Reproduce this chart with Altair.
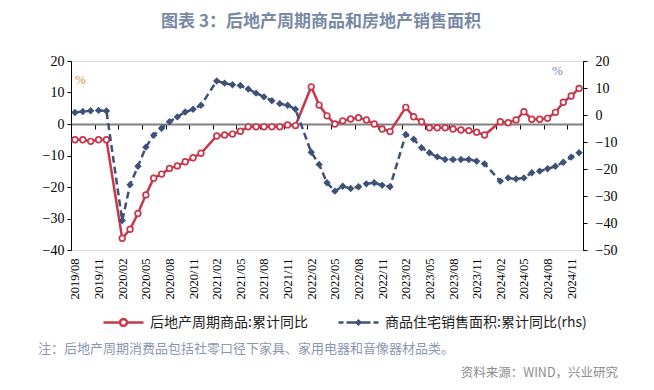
import altair as alt
import pandas as pd

# ---------------- data ----------------
months = []
for yr in range(2019, 2025):
    for mo in range(1, 13):
        if yr == 2019 and mo < 8:
            continue
        months.append(f"{yr}/{mo:02d}")
label_months = months[::3]

red_name = "后地产周期商品:累计同比"
blue_name = "商品住宅销售面积:累计同比(rhs)"

red_vals = [-5.0, -5.0, -5.5, -5.0, -5.0,
            None, -36.3, -33.4, -28.4, -22.5, -17.2, -15.9, -14.1, -13.3, -12.0, -10.7, -9.3,
            None, -3.8, -3.5, -3.2, -2.3, -0.9, -0.9, -0.9, -0.9, -0.9, -0.3, -0.5,
            None, 11.8, 6.0, 2.6, 0.0, 1.0, 1.6, 2.0, 1.3, 0.0, -1.6, -2.4,
            None, 5.3, 2.3, 0.7, -1.2, -1.2, -1.2, -1.6, -1.9, -2.1, -2.6, -3.5,
            None, 0.7, 0.4, 1.3, 3.9, 1.5, 1.5, 1.8, 3.7, 6.9, 8.9, 11.3]

blue_vals = [0.9, 1.3, 1.6, 1.7, 1.5,
             None, -39.1, -25.8, -19.0, -11.9, -7.5, -4.9, -2.5, -0.7, 1.1, 2.1, 3.6,
             None, 12.6, 11.8, 11.2, 10.9, 9.6, 8.1, 6.7, 5.3, 4.2, 3.6, 2.1,
             None, -13.8, -18.3, -25.1, -28.2, -26.4, -27.2, -26.6, -25.5, -25.1, -26.0, -26.6,
             None, -7.2, -9.0, -12.1, -14.0, -15.5, -16.5, -16.5, -16.5, -16.5, -17.1, -18.1,
             None, -24.5, -23.3, -23.7, -23.3, -21.4, -20.8, -19.9, -19.0, -17.5, -15.6, -14.0]

left_ticks = [-40, -30, -20, -10, 0, 10, 20]
right_ticks = [-50, -40, -30, -20, -10, 0, 10, 20]

title_text = ["图表 3：后地产周期商品和房地产销售面积"]
note_text = ["注：后地产周期消费品包括社零口径下家具、家用电器和音像器材品类。"]
source_text = ["资料来源：WIND，兴业研究"]

# ---------------- styles ----------------
RED = "#C8374B"
BLUE = "#3E5179"
CJK = "Noto Sans CJK SC"
SERIF = "Liberation Serif"
W, H = 512, 189

red_df = pd.DataFrame({"month": months, "v": red_vals, "series": red_name}).dropna(subset=["v"])
blue_df = pd.DataFrame({"month": months, "v": blue_vals, "series": blue_name}).dropna(subset=["v"])

xscale = alt.Scale(domain=months, type="point", padding=0.5)

x_left = alt.X("month:O", scale=xscale, axis=alt.Axis(
    values=label_months, orient="bottom", domain=False, ticks=False, tickSize=0,
    labelAngle=-90, labelFont=SERIF, labelFontSize=12.5, labelColor="black",
    labelPadding=8, title=None, grid=False))

x_right = alt.X("month:O", scale=xscale, axis=alt.Axis(
    values=label_months, orient="bottom", offset=-126, labels=False,
    domain=True, domainColor="#808080", domainWidth=2,
    ticks=True, tickColor="black", tickSize=5, tickWidth=1, tickOffset=-W / len(months) / 2,
    title=None, grid=False))

y_left = alt.Y("v:Q", scale=alt.Scale(domain=[-40, 20], nice=False, zero=False), axis=alt.Axis(
    values=left_ticks, orient="left", domainColor="black", tickColor="black", tickSize=4,
    labelFont=SERIF, labelFontSize=14, labelColor="black", labelPadding=3, grid=False,
    title="%", titleAngle=0, titleX=9, titleY=18, titleFont=SERIF, titleFontSize=13,
    titleFontWeight="normal", titleColor="#C8914E", titleAlign="center", titleBaseline="middle"))

y_right = alt.Y("v:Q", scale=alt.Scale(domain=[-50, 20], nice=False, zero=False), axis=alt.Axis(
    values=right_ticks, orient="right", domainColor="black", tickColor="black", tickSize=4,
    labelFont=SERIF, labelFontSize=14, labelColor="black", labelPadding=8, grid=False,
    title="%", titleAngle=0, titleX=-26, titleY=9, titleFont=SERIF, titleFontSize=13,
    titleFontWeight="normal", titleColor="#6A87BF", titleAlign="center", titleBaseline="middle"))

# legend symbols: line + marker drawn as one custom path (unit box scaled to 40px)
RED_PATH = "M-1,0H-0.17M0.17,0H1M-0.17,0A0.17,0.17,0,1,1,0.17,0A0.17,0.17,0,1,1,-0.17,0Z"
BLUE_PATH = ("M-1,0H-0.75M-0.6,0H-0.35M0.35,0H0.6M0.75,0H1"
             "M-0.35,0H0.35M0,-0.09L0.09,0L0,0.09L-0.09,0Z")


def make_legend(path, x):
    return alt.Legend(orient="none", legendX=x, legendY=240, title=None, padding=0,
                      symbolType=path, symbolSize=1600, symbolStrokeWidth=2.5,
                      symbolDash=[1, 0], symbolOpacity=1, labelLimit=400,
                      labelFont=CJK, labelFontSize=14, labelColor="#222222", labelOffset=5)


red_color = alt.Color("series:N", scale=alt.Scale(domain=[red_name], range=[RED]),
                      legend=make_legend(RED_PATH, 31))
blue_color = alt.Color("series:N", scale=alt.Scale(domain=[blue_name], range=[BLUE]),
                       legend=make_legend(BLUE_PATH, 266))

red_line = alt.Chart(red_df).mark_line(strokeWidth=2.5).encode(x=x_left, y=y_left, color=red_color)
red_pts = alt.Chart(red_df).mark_point(shape="circle", filled=False, fill="white", stroke=RED,
                                       strokeWidth=1.7, size=32, opacity=1).encode(x=x_left, y=y_left)

title = alt.Chart(pd.DataFrame({"t": title_text})).mark_text(
    align="center", baseline="middle", font=CJK, fontSize=17, fontWeight="bold",
    color="#7889A5").encode(x=alt.value(250), y=alt.value(-39), text="t:N")
note = alt.Chart(pd.DataFrame({"t": note_text})).mark_text(
    align="left", baseline="middle", font=CJK, fontSize=13, color="#8A97AF").encode(
    x=alt.value(-33), y=alt.value(288), text="t:N")
source = alt.Chart(pd.DataFrame({"t": source_text})).mark_text(
    align="right", baseline="middle", font=CJK, fontSize=12.5, color="#8C8C8C").encode(
    x=alt.value(547), y=alt.value(312), text="t:N")

left = alt.layer(red_line, red_pts, title, note, source)

blue_line = alt.Chart(blue_df).mark_line(strokeWidth=2.5, strokeDash=[7, 4]).encode(
    x=x_right, y=y_right, color=blue_color)
blue_pts = alt.Chart(blue_df).mark_point(shape="diamond", filled=True, fill=BLUE, size=55,
                                         opacity=1, strokeWidth=0).encode(x=x_right, y=y_right)
right = alt.layer(blue_line, blue_pts)

chart = alt.layer(left, right).resolve_scale(y="independent", color="independent").resolve_axis(
    x="independent", y="independent").resolve_legend(color="independent").properties(
    width=W, height=H,
    padding={"left": 63, "top": 53, "right": 63, "bottom": 132},
    autosize=alt.AutoSizeParams(type="none"),
).configure_view(stroke=None).configure(background="white")

chart.save("out.html", embed_options={"renderer": "svg", "actions": False})
